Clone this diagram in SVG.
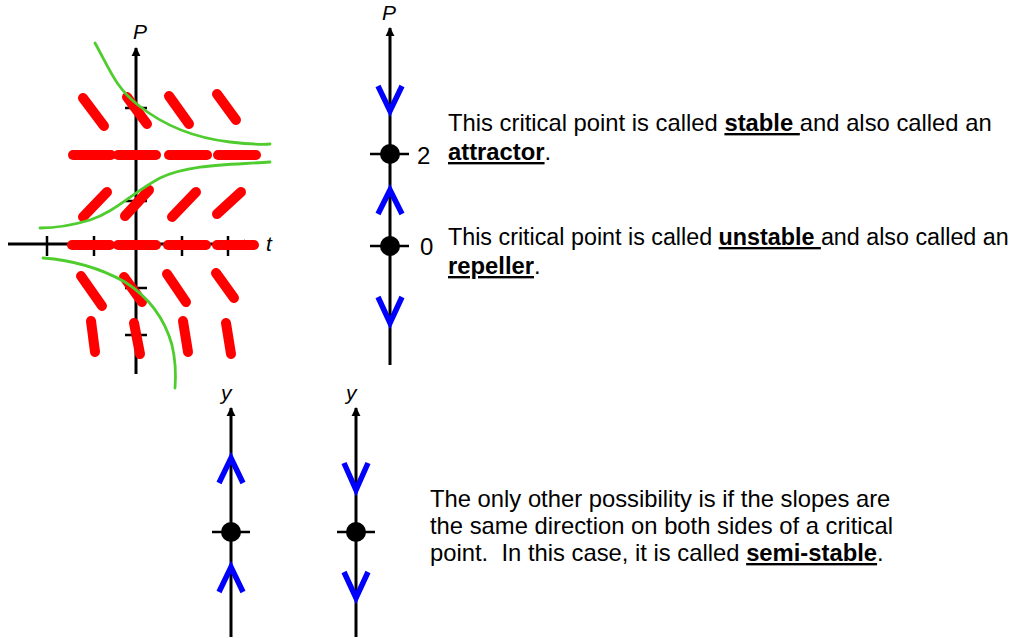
<svg xmlns="http://www.w3.org/2000/svg" width="1018" height="638" viewBox="0 0 1018 638">
<style>
.ax{stroke:#000;stroke-width:3;fill:none}
.tk{stroke:#000;stroke-width:2.5;fill:none}
.dash{stroke:#ff0000;stroke-width:10;stroke-linecap:round;fill:none}
.sol{stroke:#4fcc2e;stroke-width:2.8;fill:none;stroke-linecap:round}
.chev{stroke:#0000ff;stroke-width:5.5;fill:none;stroke-linejoin:miter}
.dot{fill:#000}
.lbl{font-family:"Liberation Sans",Arial,sans-serif;font-style:italic;font-size:21px;fill:#000}
.num{font-family:"Liberation Sans",Arial,sans-serif;font-size:24px;fill:#000}
.txt{font-family:"Liberation Sans",Arial,sans-serif;font-size:23.8px;fill:#000}
.b{font-weight:bold;text-decoration:underline}
</style>
<defs>
<marker id="ah" viewBox="0 0 10 10" refX="9" refY="5" markerWidth="3" markerHeight="3.4" orient="auto">
<path d="M0,0 L10,5 L0,10 z" fill="#000"/>
</marker>
</defs>
<rect width="1018" height="638" fill="#fff"/>

<g id="slope-field">
<line class="ax" x1="8" y1="244" x2="252" y2="244" marker-end="url(#ah)"/>
<line class="ax" x1="136" y1="374" x2="136" y2="48" marker-end="url(#ah)"/>
<g class="tk">
<line x1="47" y1="236" x2="47" y2="256"/>
<line x1="94" y1="236" x2="94" y2="256"/>
<line x1="182" y1="236" x2="182" y2="256"/>
<line x1="228" y1="236" x2="228" y2="256"/>
<line x1="125" y1="108" x2="147" y2="108"/>
<line x1="125" y1="201" x2="147" y2="201"/>
<line x1="125" y1="288" x2="147" y2="288"/>
<line x1="125" y1="335" x2="147" y2="335"/>
</g>
<g class="dash">
<line x1="83" y1="98" x2="104" y2="126"/>
<line x1="127" y1="97" x2="147" y2="124"/>
<line x1="169" y1="96" x2="189" y2="124"/>
<line x1="217" y1="94" x2="236" y2="120"/>
<line x1="73" y1="155" x2="111" y2="155"/>
<line x1="118" y1="155" x2="156" y2="155"/>
<line x1="169" y1="155" x2="207" y2="155"/>
<line x1="218" y1="155" x2="256" y2="155"/>
<line x1="83" y1="217" x2="107" y2="192"/>
<line x1="125" y1="216" x2="149" y2="190"/>
<line x1="172" y1="217" x2="196" y2="192"/>
<line x1="217" y1="214" x2="241" y2="192"/>
<line x1="72" y1="245" x2="110" y2="245"/>
<line x1="118" y1="245" x2="156" y2="245"/>
<line x1="168" y1="245" x2="206" y2="245"/>
<line x1="217" y1="245" x2="254" y2="245"/>
<line x1="81" y1="276" x2="102" y2="306"/>
<line x1="124" y1="277" x2="142" y2="302"/>
<line x1="167" y1="274" x2="186" y2="302"/>
<line x1="216" y1="273" x2="234" y2="298"/>
<line x1="91" y1="321" x2="95" y2="352"/>
<line x1="134" y1="323" x2="140" y2="354"/>
<line x1="183" y1="321" x2="188" y2="352"/>
<line x1="226" y1="323" x2="231" y2="354"/>
</g>
<g class="sol">
<path d="M95,43 C110,70 116,88 138,105 C163,125 195,138 230,142 C248,144 260,145 270,144"/>
<path d="M270,162 C230,165 190,164 160,178 C132,193 115,212 90,220 C70,226 55,228 40,228"/>
<path d="M43,258 C70,260 100,268 125,282 C150,298 165,320 172,345 C176,362 176,375 175,388"/>
</g>
<text class="lbl" x="133" y="39">P</text>
<text class="lbl" x="266" y="251">t</text>
</g>

<g id="phase-line-P">
<line class="ax" x1="390" y1="365" x2="390" y2="28" marker-end="url(#ah)"/>
<line class="tk" x1="370" y1="154" x2="409" y2="154"/>
<circle class="dot" cx="390" cy="154" r="10"/>
<line class="tk" x1="370" y1="246" x2="409" y2="246"/>
<circle class="dot" cx="390" cy="246" r="10"/>
<polyline class="chev" points="378,86 390,111 402,86"/>
<polyline class="chev" points="378,214 390,190 402,214"/>
<polyline class="chev" points="378,297 390,323 402,297"/>
<text class="lbl" x="382" y="20">P</text>
<text class="num" x="417" y="164">2</text>
<text class="num" x="420" y="255">0</text>
</g>

<g id="phase-line-semi-up">
<line class="ax" x1="231" y1="637" x2="231" y2="408" marker-end="url(#ah)"/>
<line class="tk" x1="212" y1="532" x2="250" y2="532"/>
<circle class="dot" cx="231" cy="532" r="10"/>
<polyline class="chev" points="219,483 231,458 243,483"/>
<polyline class="chev" points="219,592 231,567 243,592"/>
<text class="lbl" x="221" y="400">y</text>
</g>

<g id="phase-line-semi-down">
<line class="ax" x1="356" y1="637" x2="356" y2="408" marker-end="url(#ah)"/>
<line class="tk" x1="337" y1="532" x2="375" y2="532"/>
<circle class="dot" cx="356" cy="532" r="10"/>
<polyline class="chev" points="344,463 356,490 368,463"/>
<polyline class="chev" points="344,572 356,598 368,572"/>
<text class="lbl" x="346" y="400">y</text>
</g>

<g id="text-stable">
<text class="txt" x="448" y="131">This critical point is called <tspan class="b">stable </tspan>and also called an</text>
<text class="txt" x="448" y="160"><tspan class="b">attractor</tspan>.</text>
</g>

<g id="text-unstable">
<text class="txt" x="448" y="245" style="font-size:23.3px">This critical point is called <tspan class="b">unstable </tspan>and also called an</text>
<text class="txt" x="448" y="274"><tspan class="b">repeller</tspan>.</text>
</g>

<g id="text-semi">
<text class="txt" x="430" y="507">The only other possibility is if the slopes are</text>
<text class="txt" x="430" y="534">the same direction on both sides of a critical</text>
<text class="txt" x="430" y="561" xml:space="preserve">point.  In this case, it is called <tspan class="b">semi-stable</tspan>.</text>
</g>
</svg>
